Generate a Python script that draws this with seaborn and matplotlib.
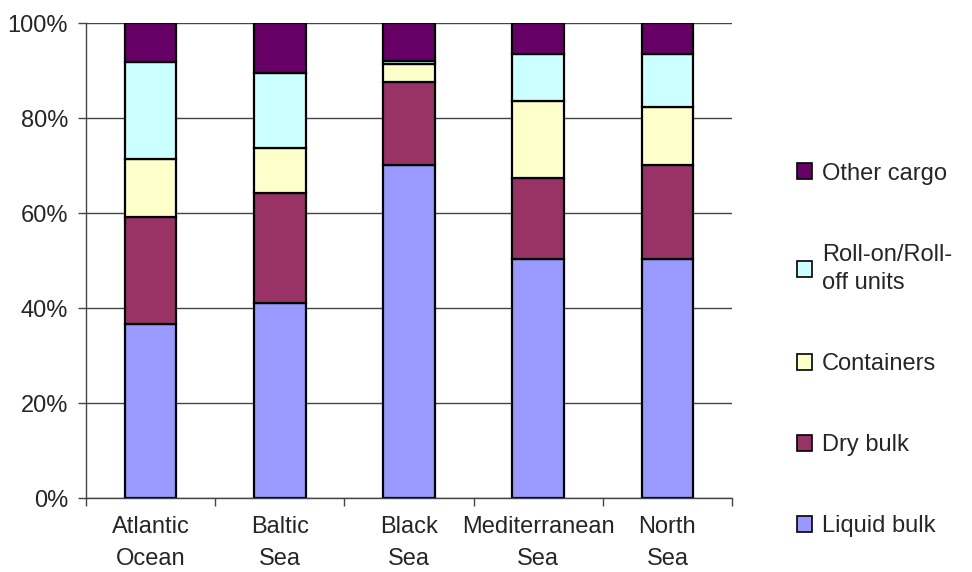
import pandas as pd
import seaborn as sns
import matplotlib.pyplot as plt
from matplotlib.ticker import FixedLocator, FuncFormatter

# shares of cargo type per sea region (%)
regions = ["Atlantic\nOcean", "Baltic\nSea", "Black\nSea", "Mediterranean\nSea", "North\nSea"]
liquid_bulk = [36.6, 41.2, 70.2, 50.3, 50.3]
dry_bulk = [22.7, 23.0, 17.5, 17.1, 19.9]
containers = [12.1, 9.6, 3.7, 16.3, 12.1]
roro = [20.4, 15.8, 0.7, 9.8, 11.2]
other_cargo = [8.2, 10.4, 7.9, 6.5, 6.5]

# legend order, top to bottom (first level ends up on top of the stack)
cargo_types = ["Other cargo", "Roll-on/Roll-\noff units", "Containers", "Dry bulk", "Liquid bulk"]
colors = ["#660066", "#CCFFFF", "#FFFFCC", "#993366", "#9999FF"]

series = dict(zip(cargo_types, [other_cargo, roro, containers, dry_bulk, liquid_bulk]))
rows = []
for cargo, vals in series.items():
    for reg, v in zip(regions, vals):
        rows.append({"region": reg, "cargo": cargo, "share": v})
df = pd.DataFrame(rows)
df["region"] = pd.Categorical(df["region"], categories=regions, ordered=True)

sns.set_style("white")
plt.rcParams["font.family"] = ["Liberation Sans", "DejaVu Sans"]
fs = 17

fig = plt.figure(figsize=(9.72, 5.72), dpi=100)
ax = fig.add_axes([86 / 972, 1 - 498.3 / 572, (732 - 86) / 972, (498.3 - 23.3) / 572])

sns.histplot(data=df, x="region", weights="share", hue="cargo", hue_order=cargo_types,
             multiple="stack", discrete=True, shrink=0.4, palette=colors, alpha=1,
             edgecolor="black", linewidth=1.6, ax=ax)

ax.set_ylim(0, 100)
ax.set_xlim(-0.5, len(regions) - 0.5)
ax.set_yticks(range(0, 101, 20))
ax.yaxis.set_major_formatter(FuncFormatter(lambda v, p: f"{v:.0f}%"))
ax.yaxis.grid(True, color="#444444", linewidth=1.0)
ax.set_axisbelow(True)
ax.set_xlabel("")
ax.set_ylabel("")

ax.set_xticks(range(len(regions)))
ax.set_xticklabels(regions, linespacing=1.55)
ax.xaxis.set_minor_locator(FixedLocator([i + 0.5 for i in range(-1, len(regions))]))
ax.tick_params(axis="x", which="major", length=0, pad=13, labelsize=fs)
ax.tick_params(axis="x", which="minor", length=6, width=1, color="#444444", direction="out", bottom=True)
ax.tick_params(axis="y", length=6, width=1, color="#444444", direction="out", left=True, labelsize=fs, pad=7)

for s in ["top", "right"]:
    ax.spines[s].set_visible(False)
for s in ["left", "bottom"]:
    ax.spines[s].set_color("#444444")
    ax.spines[s].set_linewidth(1.0)

sns.move_legend(ax, "center left", bbox_to_anchor=(797 / 972, 1 - 350 / 572),
                bbox_transform=fig.transFigure, frameon=False, title=None,
                fontsize=fs, labelspacing=2.5, handlelength=0.65, handleheight=0.65,
                handletextpad=0.4, borderpad=0, borderaxespad=0)
leg = ax.get_legend()
for h in leg.legend_handles:
    h.set_edgecolor("black")
    h.set_linewidth(1.2)
for t in leg.get_texts():
    t.set_linespacing(1.4)

fig.savefig("out.png", dpi=100)
